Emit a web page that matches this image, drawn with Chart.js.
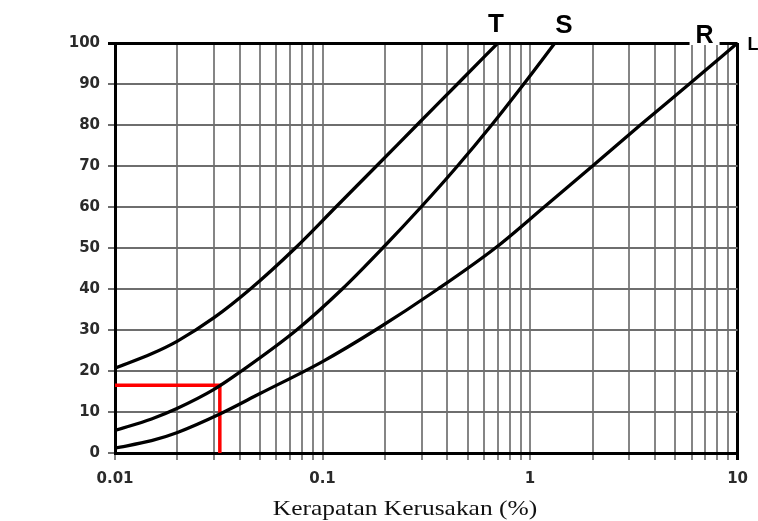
<!DOCTYPE html>
<html>
<head>
<meta charset="utf-8">
<script src="https://cdn.jsdelivr.net/npm/chart.js@4"></script>
<style>
  html, body { margin: 0; padding: 0; background: #fff; }
  canvas { display: block; }
</style>
</head>
<body>
<canvas id="chart" width="758" height="521"></canvas>
<script>
// Curve T
const curveTX = [0.01, 0.015, 0.02, 0.03, 0.0449, 0.074, 0.116, 0.182, 0.285, 0.447, 0.70];
const curveTY = [20.7, 24.2, 27.3, 33, 40, 50, 60, 70, 80, 90, 100];
// Curve S
const curveSX = [0.01, 0.015, 0.02, 0.03, 0.0407, 0.075, 0.1245, 0.195, 0.2985, 0.447, 0.653, 0.933, 1.318];
const curveSY = [5.5, 8.3, 10.9, 15.5, 20, 30, 40, 50, 60, 70, 80, 90, 100];
// Curve R
const curveRX = [0.01, 0.015, 0.02, 0.032, 0.05, 0.1, 0.18, 0.36, 0.68, 1.17, 2.0, 3.4, 5.85, 10];
const curveRY = [1.2, 3.0, 5.0, 9.5, 14.5, 22.3, 30, 40, 50, 60, 70, 80, 90, 100];
// Reading guide (red)
const guideX = [0.01, 0.032, 0.032];
const guideY = [16.5, 16.5, 0];

// Axes
const xGridValues = [0.01, 0.02, 0.03, 0.04, 0.05, 0.06, 0.07, 0.08, 0.09,
                     0.1, 0.2, 0.3, 0.4, 0.5, 0.6, 0.7, 0.8, 0.9,
                     1, 2, 3, 4, 5, 6, 7, 8, 9, 10];
const xLabelValues = [0.01, 0.1, 1, 10];
const xLabelText = ['0.01', '0.1', '1', '10'];
const yTickValues = [0, 10, 20, 30, 40, 50, 60, 70, 80, 90, 100];
const curveNames = ['T', 'S', 'R'];
const edgeLabel = 'L';
const xAxisTitle = 'Kerapatan Kerusakan (%)';

function points(xs, ys) { return xs.map((x, i) => ({ x: x, y: ys[i] })); }

const tickFont = { family: '"DejaVu Sans", sans-serif', size: 15, weight: 'bold' };

const curveStyle = {
  borderColor: '#000', borderWidth: 3.3, pointRadius: 0,
  cubicInterpolationMode: 'monotone', fill: false
};

// Letters at the upper end of each curve, plus the axis title
const annotations = {
  id: 'annotations',
  afterDraw(chart) {
    const { ctx, scales: { x, y }, chartArea } = chart;
    const top = y.getPixelForValue(100);
    ctx.save();
    ctx.fillStyle = '#000';
    ctx.textAlign = 'center';
    ctx.textBaseline = 'alphabetic';
    ctx.font = 'bold 26px "Liberation Sans", Arial, sans-serif';
    ctx.fillText(curveNames[0], x.getPixelForValue(curveTX[curveTX.length - 1]) - 2, top - 11);
    ctx.fillText(curveNames[1], x.getPixelForValue(curveSX[curveSX.length - 1]) + 9, top - 10);
    const rx = x.getPixelForValue(curveRX[curveRX.length - 1]) - 33;
    ctx.fillStyle = '#fff';
    ctx.fillRect(rx - 15, top - 20, 30, 22);
    ctx.fillStyle = '#000';
    ctx.font = 'bold 25px "Liberation Sans", Arial, sans-serif';
    ctx.fillText(curveNames[2], rx, top);
    ctx.textAlign = 'left';
    ctx.font = 'bold 18px "Liberation Sans", Arial, sans-serif';
    ctx.fillText(edgeLabel, chartArea.right + 10, top + 7);

    // axis title, set slightly wide
    ctx.font = '22px "Liberation Serif", "Times New Roman", serif';
    ctx.fillStyle = '#111';
    ctx.textAlign = 'center';
    const cx = chartArea.left + 290;
    ctx.translate(cx, chartArea.bottom + 62);
    ctx.scale(1.157, 1);
    ctx.fillText(xAxisTitle, 0, 0);
    ctx.restore();
  }
};

new Chart(document.getElementById('chart'), {
  type: 'line',
  data: {
    datasets: [
      Object.assign({ label: curveNames[0], data: points(curveTX, curveTY) }, curveStyle),
      Object.assign({ label: curveNames[1], data: points(curveSX, curveSY) }, curveStyle),
      Object.assign({ label: curveNames[2], data: points(curveRX, curveRY) }, curveStyle),
      { label: 'guide', data: points(guideX, guideY), borderColor: '#ff0000',
        borderWidth: 3.5, pointRadius: 0, tension: 0, fill: false }
    ]
  },
  options: {
    responsive: false,
    devicePixelRatio: 1,
    animation: false,
    layout: { padding: { top: 43, right: 18, left: 0, bottom: 0 } },
    plugins: { legend: { display: false }, tooltip: { enabled: false } },
    scales: {
      x: {
        type: 'logarithmic',
        min: 0.01, max: 10,
        afterBuildTicks(scale) { scale.ticks = xGridValues.map(v => ({ value: v })); },
        afterFit(scale) { scale.height = 68; },
        ticks: {
          autoSkip: false, maxRotation: 0, minRotation: 0,
          padding: 10, color: '#2a2a2a', font: tickFont,
          callback(value) {
            const i = xLabelValues.findIndex(v => Math.abs(v - value) < v * 1e-6);
            return i >= 0 ? xLabelText[i] : '';
          }
        },
        grid: {
          color: (c) => (c.tick && c.tick.value === 10) ? '#000' : '#858585',
          lineWidth: (c) => (c.tick && c.tick.value === 10) ? 3 : 2,
          tickLength: 7,
          drawTicks: true
        },
        border: { color: '#000', width: 3 }
      },
      y: {
        type: 'linear',
        min: 0, max: 100,
        afterBuildTicks(scale) { scale.ticks = yTickValues.map(v => ({ value: v })); },
        afterFit(scale) { scale.width = 115; },
        ticks: { padding: 8, color: '#2a2a2a', font: tickFont },
        grid: {
          color: (c) => (c.tick && c.tick.value === 100) ? '#000' : '#6e6e6e',
          lineWidth: (c) => (c.tick && c.tick.value === 100) ? 3 : 2,
          tickLength: 7,
          drawTicks: true
        },
        border: { color: '#000', width: 3 }
      }
    }
  },
  plugins: [annotations]
});
</script>
</body>
</html>
